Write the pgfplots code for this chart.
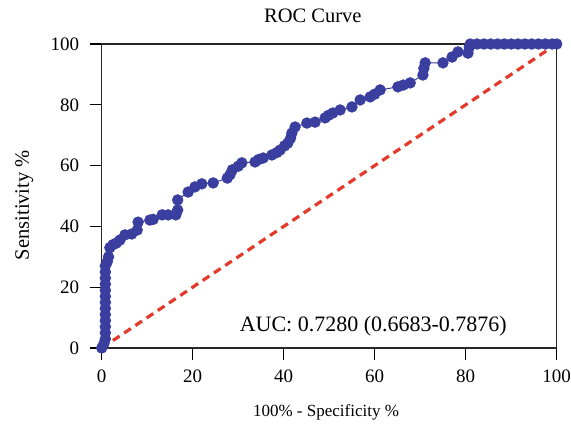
\documentclass[border=0pt]{standalone}
\usepackage{fontspec}
\setmainfont{Liberation Serif}
\usepackage{pgfplots}
\pgfplotsset{compat=1.18}
\definecolor{rocblue}{HTML}{3A3F9F}
\definecolor{diagred}{HTML}{E53A2B}

\begin{document}
\begin{tikzpicture}[font=\fontsize{19bp}{23bp}\selectfont]
\begin{axis}[
  scale only axis, width=455bp, height=304bp,
  xmin=0, xmax=100, ymin=0, ymax=100,
  xtick={0,20,...,100}, ytick={0,20,...,100},
  xtick pos=left, ytick pos=left,
  tick align=outside, major tick length=12bp,
  tick style={black, line width=1.1bp},
  axis line style={black!85, line width=1.1bp},
  /pgf/number format/assume math mode=true,
  yticklabel style={xshift=-7bp},
  xticklabel style={yshift=-6bp},
  clip=false,
  title={ROC Curve},
  title style={at={(axis description cs:0.464,1.05)}, anchor=base, inner sep=0pt,
               font=\fontsize{20.5bp}{24bp}\selectfont},
  xlabel={100\% - Specificity \%},
  xlabel style={at={(axis description cs:0.493,-0.224)}, anchor=base, inner sep=0pt,
                font=\fontsize{17bp}{21bp}\selectfont},
  ylabel={Sensitivity \%},
  ylabel style={at={(axis description cs:-0.16,0.47)}, rotate=0, anchor=base, inner sep=0pt,
                font=\fontsize{20.5bp}{24bp}\selectfont},
]
\addplot[diagred, line width=3.2bp, dash pattern=on 8bp off 5.5bp]
  coordinates {(0,0) (100,100)};

\addplot[rocblue, line width=1bp, mark=*, mark size=5.2bp,
         mark options={fill=rocblue, draw=rocblue}]
coordinates {
  (0,0) (0.5,1.5) (0.8,3) (0.8,5) (0.8,7) (0.8,9) (0.8,11) (0.8,13) (0.8,15)
  (0.8,17) (0.8,19) (0.8,21) (0.8,23) (0.8,25) (0.8,27) (1.2,28.3) (1.5,30)
  (1.8,33) (2.5,34) (3.2,34.5) (4,35.5) (5.1,37.2) (6.6,37.5) (7.8,38.8)
  (8,41.4) (10.6,42.1) (11.3,42.3) (13.3,43.8) (14.6,43.8) (16.3,43.8)
  (16.7,45.4) (16.7,48.7) (19,51.3) (20.5,53) (22,54) (24.5,54.3)
  (27.6,55.9) (28.2,57) (28.7,58.6) (30,59.8) (30.8,60.9) (33.7,61.2)
  (34.5,62) (35.5,62.5) (37.4,63.5) (38.5,64.3) (39.2,65.1) (40.2,66.5)
  (40.9,67.4) (41.5,69) (41.8,70.7) (42.5,72.7) (45.1,74) (46.9,74.3)
  (49.1,75.7) (49.8,76.5) (50.8,77.3) (52.4,78.3) (55,79.3) (56.8,81.6)
  (59,82.6) (60,83.5) (61.2,84.9) (65.1,85.9) (66.3,86.5) (67.8,87.2)
  (70.6,89.8) (70.8,92) (71.1,93.8) (75,93.8) (77,95.7) (78.3,97.4)
  (80.5,97) (80.8,99) (81,100) (82.5,100) (84,100) (85.5,100) (87,100)
  (88.5,100) (90,100) (91.5,100) (93,100) (94.5,100) (96,100) (97.5,100)
  (99,100) (100,100)
};

\node[anchor=west, inner sep=0pt, font=\fontsize{22bp}{26bp}\selectfont]
  at (axis cs:30.3,7.2) {AUC: 0.7280 (0.6683-0.7876)};
\coordinate (SW) at (rel axis cs:0,0);
\coordinate (NE) at (rel axis cs:1,1);
\end{axis}
\pgfresetboundingbox
\path[use as bounding box] ([shift={(-101.7bp,-81bp)}]SW) rectangle ([shift={(14.3bp,44bp)}]NE);
\end{tikzpicture}
\end{document}
